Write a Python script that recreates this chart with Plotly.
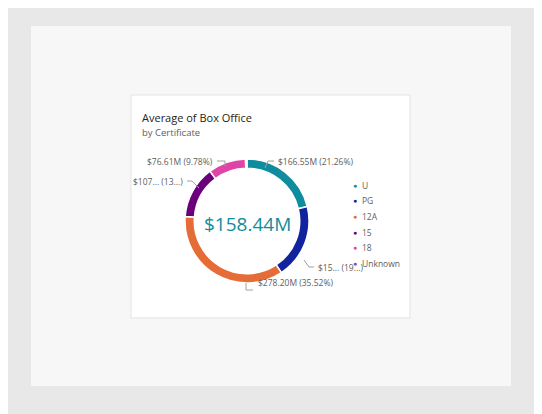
import plotly.graph_objects as go

certificates = ["U", "PG", "12A", "15", "18", "Unknown"]
box_office = [166.55, 152.0, 278.20, 107.0, 76.61, 3.0]
colors = ["#0F8C9E", "#12239E", "#E66C37", "#6B007B", "#E044A7", "#744EC2"]
slice_labels = ["$166.55M (21.26%)", "$15... (19...)", "$278.20M (35.52%)",
                "$107... (13...)", "$76.61M (9.78%)", ""]
center_value = "$158.44M"

W, H = 542, 414
OFF = 8  # page body margin offset
px_x = lambda x: (x - OFF) / W
px_y = lambda y: 1 - (y - OFF) / H

fig = go.Figure(go.Pie(
    labels=certificates, values=box_office, hole=0.85, sort=False,
    direction="clockwise", rotation=0, textinfo="none", showlegend=False,
    marker=dict(colors=colors, line=dict(color="white", width=1.5)),
    domain=dict(x=[px_x(185), px_x(309)], y=[px_y(283), px_y(159)]),
))

shapes = [
    dict(type="rect", xref="paper", yref="paper", x0=px_x(31), x1=px_x(511),
         y0=px_y(386), y1=px_y(26), fillcolor="#f7f7f7", line_width=0, layer="below"),
    dict(type="rect", xref="paper", yref="paper", x0=px_x(131), x1=px_x(410),
         y0=px_y(318), y1=px_y(95), fillcolor="white",
         line=dict(color="#e3e3e3", width=1), layer="below"),
]
leaders = [
    ([(265, 168), (268, 161), (274, 161)], 276, 161, "left", 0),
    ([(304, 260), (309, 267), (314, 267)], 316, 267, "left", 1),
    ([(246, 283), (246, 290), (253, 290)], 256, 290, "left", 2),
    ([(199, 188), (192, 181), (187, 181)], 185, 181, "right", 3),
    ([(225, 166), (225, 161), (217, 161)], 215, 161, "right", 4),
]
annotations = []
for pts, tx, ty, side, i in leaders:
    path = "M " + " L ".join(f"{px_x(x)} {px_y(y)}" for x, y in pts)
    shapes.append(dict(type="path", xref="paper", yref="paper", path=path,
                       line=dict(color="#a0a0a0", width=1)))
    annotations.append(dict(x=px_x(tx), y=px_y(ty), xref="paper", yref="paper",
                            text=slice_labels[i], showarrow=False, xanchor=side,
                            font=dict(size=8.5, color="#605E5C")))

# custom legend with small dots
for i, (name, col) in enumerate(zip(certificates, colors)):
    y = 185 + i * 15.7
    annotations.append(dict(x=px_x(355), y=px_y(y), xref="paper", yref="paper",
                            text="●", showarrow=False, xanchor="center",
                            font=dict(size=7, color=col)))
    annotations.append(dict(x=px_x(360), y=px_y(y), xref="paper", yref="paper",
                            text=name, showarrow=False, xanchor="left",
                            font=dict(size=8.5, color="#605E5C")))

annotations += [
    dict(x=px_x(140), y=px_y(108), xref="paper", yref="paper", text="Average of Box Office",
         showarrow=False, xanchor="left", font=dict(size=11, color="#252423")),
    dict(x=px_x(140), y=px_y(124), xref="paper", yref="paper", text="by Certificate",
         showarrow=False, xanchor="left", font=dict(size=9.5, color="#605E5C")),
    dict(x=px_x(247), y=px_y(224), xref="paper", yref="paper", text=center_value,
         showarrow=False, font=dict(size=19, color="#0F8C9E")),
]

fig.update_layout(
    width=W, height=H, margin=dict(l=0, r=0, t=0, b=0),
    paper_bgcolor="#e8e8e8", plot_bgcolor="#e8e8e8",
    font=dict(family="Segoe UI, Open Sans, sans-serif"),
    shapes=shapes, annotations=annotations,
)
fig.write_html("out.html")
